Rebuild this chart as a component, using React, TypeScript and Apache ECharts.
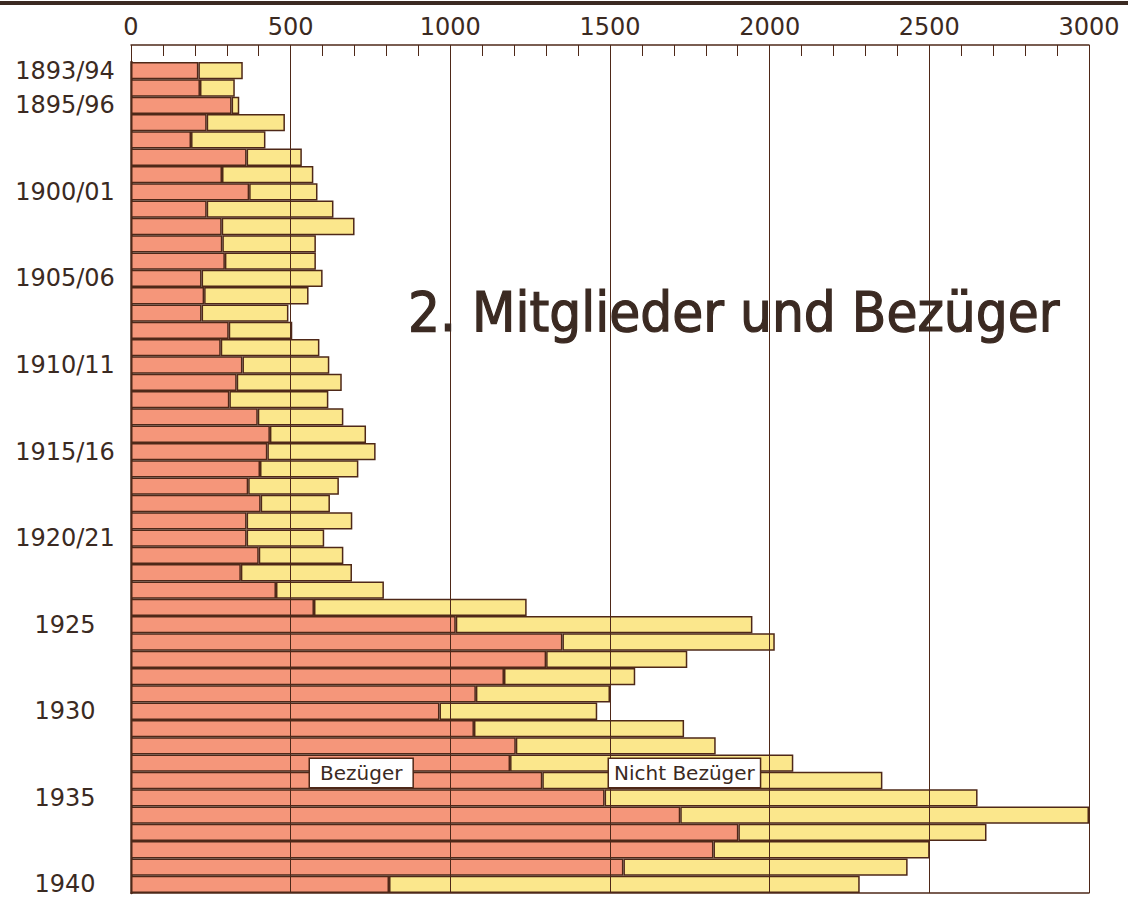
import React, { useEffect, useRef } from "react";
import * as echarts from "echarts";

const CATEGORIES = [
  "1893/94", "1894/95", "1895/96", "1896/97", "1897/98", "1898/99", "1899/1900",
  "1900/01", "1901/02", "1902/03", "1903/04", "1904/05", "1905/06", "1906/07",
  "1907/08", "1908/09", "1909/10", "1910/11", "1911/12", "1912/13", "1913/14",
  "1914/15", "1915/16", "1916/17", "1917/18", "1918/19", "1919/20", "1920/21",
  "1921/22", "1922/23", "1923/24", "1924", "1925", "1926", "1927", "1928",
  "1929", "1930", "1931", "1932", "1933", "1934", "1935", "1936", "1937",
  "1938", "1939", "1940",
];

const SHOWN_LABELS = [
  "1893/94", "1895/96", "1900/01", "1905/06", "1910/11", "1915/16",
  "1920/21", "1925", "1930", "1935", "1940",
];

const BEZUEGER = [
  211, 216, 315, 237, 188, 362, 285, 370, 237, 284, 286, 294, 221, 229, 221, 306,
  281, 349, 331, 308, 397, 435, 427, 404, 367, 406, 362, 362, 400, 344, 454, 573,
  1017, 1351, 1300, 1168, 1080, 966, 1074, 1205, 1187, 1288, 1483, 1720, 1902,
  1824, 1542, 808,
];

const NICHT_BEZUEGER = [
  139, 109, 24, 245, 233, 173, 286, 214, 397, 416, 293, 285, 379, 327, 272, 199,
  309, 272, 329, 310, 268, 301, 339, 308, 284, 217, 331, 243, 265, 348, 338, 666,
  929, 665, 442, 411, 420, 494, 658, 626, 887, 1065, 1168, 1280, 777, 677, 890,
  1474,
];

const GRID_LINES = [500, 1000, 1500, 2000, 2500, 3000];

const TITLE = "2. Mitglieder und Bezüger";
const LABEL_A = "Bezüger";
const LABEL_B = "Nicht Bezüger";

const INK = "#3b2a22";
const EDGE = "#4e2818";
const RED = "#F5967A";
const YELLOW = "#FBE78C";
const FONT = '"DejaVu Sans", sans-serif';
const TITLE_FONT = '"DejaVu Sans Condensed", "DejaVu Sans", sans-serif';

export default function App() {
  const ref = useRef<HTMLDivElement>(null);

  useEffect(() => {
    if (!ref.current) return;
    const chart = echarts.init(ref.current, undefined, { renderer: "svg" });
    const option = {
      animation: false,
      backgroundColor: "#ffffff",
      grid: { left: 131, right: 39, top: 62, bottom: 7, containLabel: false },
      xAxis: [
        {
          type: "value",
          position: "top",
          min: 0,
          max: 3000,
          interval: 500,
          offset: 17,
          axisLine: { show: true, lineStyle: { color: EDGE, width: 1.5 } },
          axisTick: { show: true, inside: true, length: 17, lineStyle: { color: EDGE, width: 1 } },
          minorTick: { show: true, splitNumber: 5, length: 11, lineStyle: { color: EDGE, width: 1 } },
          axisLabel: {
            color: INK,
            fontSize: 24,
            fontFamily: FONT,
            margin: 6,
            formatter: (v: number) => String(v),
          },
          splitLine: { show: false },
        },
        {
          type: "value",
          position: "bottom",
          min: 0,
          max: 3000,
          axisLine: { show: true, lineStyle: { color: EDGE, width: 1.5 } },
          axisTick: { show: false },
          axisLabel: { show: false },
          splitLine: { show: false },
        },
      ],
      yAxis: {
        type: "category",
        inverse: true,
        data: CATEGORIES,
        axisLine: { show: true, lineStyle: { color: EDGE, width: 2.5 } },
        axisTick: { show: false },
        axisLabel: {
          interval: (_i: number, v: string) => SHOWN_LABELS.includes(v),
          align: "center",
          margin: 66,
          color: INK,
          fontSize: 24,
          fontFamily: FONT,
        },
        splitLine: { show: false },
      },
      series: [
        {
          name: LABEL_A,
          type: "bar",
          stack: "total",
          xAxisIndex: 0,
          barCategoryGap: "0%",
          data: BEZUEGER,
          itemStyle: { color: RED, borderColor: EDGE, borderWidth: 1.5 },
        },
        {
          name: LABEL_B,
          type: "bar",
          stack: "total",
          xAxisIndex: 0,
          barCategoryGap: "0%",
          data: NICHT_BEZUEGER,
          itemStyle: { color: YELLOW, borderColor: EDGE, borderWidth: 1.5 },
          markLine: {
            silent: true,
            symbol: ["none", "none"],
            label: { show: false },
            lineStyle: { color: EDGE, width: 1, type: "solid" },
            data: GRID_LINES.map((v) => ({ xAxis: v })),
          },
        },
      ],
      graphic: [
        {
          type: "line",
          shape: { x1: 0, y1: 3, x2: 1128, y2: 3 },
          style: { stroke: INK, lineWidth: 4 },
        },
        {
          type: "text",
          x: 408,
          y: 311,
          z: 100,
          style: {
            text: TITLE,
            fill: INK,
            stroke: INK,
            lineWidth: 1.2,
            font: `56px ${TITLE_FONT}`,
            verticalAlign: "middle",
          },
        },
        {
          type: "text",
          x: 310,
          y: 773,
          z: 100,
          style: {
            text: LABEL_A,
            fill: INK,
            font: `20px ${FONT}`,
            verticalAlign: "middle",
            backgroundColor: "#ffffff",
            borderColor: EDGE,
            borderWidth: 1.5,
            padding: [4, 10],
          },
        },
        {
          type: "text",
          x: 609,
          y: 773,
          z: 100,
          style: {
            text: LABEL_B,
            fill: INK,
            font: `20px ${FONT}`,
            verticalAlign: "middle",
            backgroundColor: "#ffffff",
            borderColor: EDGE,
            borderWidth: 1.5,
            padding: [4, 5],
          },
        },
      ],
    };
    chart.setOption(option as any);
    return () => chart.dispose();
  }, []);

  return (
    <div
      ref={ref}
      style={{ position: "fixed", left: 0, top: 0, width: 1128, height: 900 }}
    />
  );
}
